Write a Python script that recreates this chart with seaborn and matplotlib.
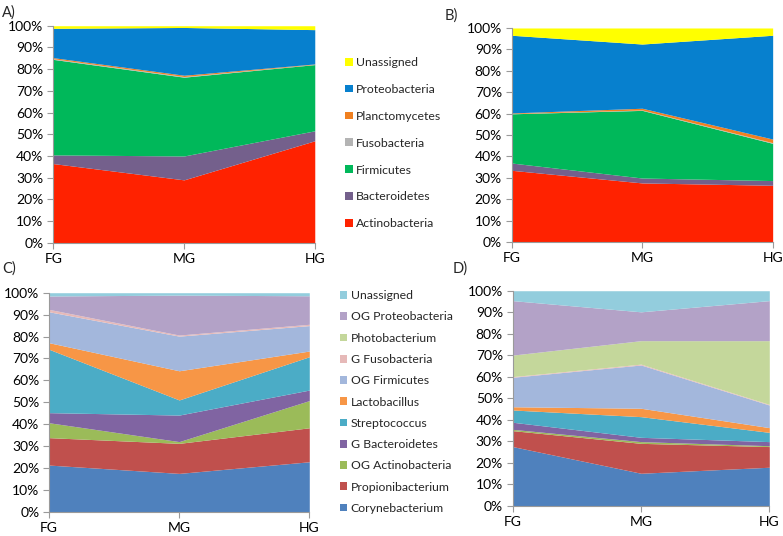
import matplotlib
matplotlib.use("Agg")
import matplotlib.pyplot as plt
import seaborn as sns

groups = ["FG", "MG", "HG"]

# phylum level (A, B), percent per group FG, MG, HG
phyla = ["Actinobacteria", "Bacteroidetes", "Firmicutes", "Fusobacteria",
         "Planctomycetes", "Proteobacteria", "Unassigned"]
a_actino = [36.5, 29.0, 47.0]
a_bacter = [4.0, 11.0, 4.6]
a_firmic = [44.0, 36.3, 30.5]
a_fuso = [0.3, 0.3, 0.1]
a_plancto = [0.5, 0.6, 0.2]
a_proteo = [13.5, 22.0, 15.8]
a_unass = [1.2, 0.8, 1.8]

b_actino = [33.5, 27.6, 26.5]
b_bacter = [3.4, 2.3, 2.2]
b_firmic = [23.0, 31.6, 17.4]
b_fuso = [0.1, 0.2, 0.3]
b_plancto = [0.3, 0.8, 1.7]
b_proteo = [36.3, 30.0, 48.5]
b_unass = [3.4, 7.5, 3.4]

# genus level (C, D)
genera = ["Corynebacterium", "Propionibacterium", "OG Actinobacteria",
          "G Bacteroidetes", "Streptococcus", "Lactobacillus", "OG Firmicutes",
          "G Fusobacteria", "Photobacterium", "OG Proteobacteria", "Unassigned"]
c_coryne = [21.4, 17.6, 22.9]
c_propioni = [12.5, 13.7, 15.5]
c_og_actino = [6.8, 0.8, 12.4]
c_g_bacter = [4.6, 12.1, 4.8]
c_strepto = [28.9, 6.9, 15.2]
c_lacto = [3.0, 13.3, 2.6]
c_og_firmic = [14.1, 15.8, 11.6]
c_g_fuso = [1.1, 0.5, 0.6]
c_photo = [0.0, 0.0, 0.0]
c_og_proteo = [6.1, 18.2, 13.0]
c_unass = [1.5, 1.1, 1.4]

d_coryne = [27.6, 15.2, 18.0]
d_propioni = [7.4, 13.9, 9.6]
d_og_actino = [0.6, 0.8, 0.4]
d_g_bacter = [3.3, 2.0, 1.9]
d_strepto = [5.7, 9.6, 4.3]
d_lacto = [1.5, 3.9, 2.2]
d_og_firmic = [13.7, 20.1, 10.5]
d_g_fuso = [0.3, 0.4, 0.3]
d_photo = [10.0, 10.9, 29.6]
d_og_proteo = [25.3, 13.4, 18.6]
d_unass = [4.6, 9.8, 4.6]

phyla_colors = sns.color_palette(["#FF2200", "#74608C", "#00B85A", "#B4B4B4",
                                  "#F08020", "#0780CE", "#FFFF00"])
genera_colors = sns.color_palette(["#4F81BD", "#C0504D", "#9BBB59", "#8064A2",
                                   "#4BACC6", "#F79646", "#A3B7DC", "#E6B9B8",
                                   "#C4D79B", "#B3A2C7", "#93CDDD"])

sns.set_style("white")
plt.rcParams["font.family"] = ["Lato", "DejaVu Sans"]

fig = plt.figure(figsize=(7.83, 5.36), dpi=100)


def panel(rect, series, colors):
    ax = fig.add_axes(rect)
    x = list(range(len(groups)))
    polys = ax.stackplot(x, *series, colors=colors, linewidth=0)
    ax.set_xlim(0, 2)
    ax.set_ylim(0, 100)
    ax.set_xticks(x)
    ax.set_xticklabels(groups)
    ax.set_yticks(range(0, 101, 10))
    ax.set_yticklabels([f"{v}%" for v in range(0, 101, 10)])
    sns.despine(ax=ax)
    for s in ["left", "bottom"]:
        ax.spines[s].set_color("#9a9a9a")
        ax.spines[s].set_linewidth(0.8)
    ax.tick_params(axis="both", which="both", length=4, width=0.8,
                   color="#9a9a9a", labelsize=10, labelcolor="black",
                   left=True, bottom=True)
    ax.tick_params(axis="x", pad=3)
    ax.tick_params(axis="y", pad=3)
    return polys


pa = panel([0.068, 0.547, 0.334, 0.405],
           [a_actino, a_bacter, a_firmic, a_fuso, a_plancto, a_proteo, a_unass],
           phyla_colors)
panel([0.6535, 0.5485, 0.3333, 0.3993],
      [b_actino, b_bacter, b_firmic, b_fuso, b_plancto, b_proteo, b_unass],
      phyla_colors)
pc = panel([0.0626, 0.0448, 0.3324, 0.4091],
           [c_coryne, c_propioni, c_og_actino, c_g_bacter, c_strepto, c_lacto,
            c_og_firmic, c_g_fuso, c_photo, c_og_proteo, c_unass],
           genera_colors)
panel([0.6548, 0.056, 0.3277, 0.4016],
      [d_coryne, d_propioni, d_og_actino, d_g_bacter, d_strepto, d_lacto,
       d_og_firmic, d_g_fuso, d_photo, d_og_proteo, d_unass],
      genera_colors)

fig.legend(pa[::-1], phyla[::-1], loc="center left",
           bbox_to_anchor=(0.441, 0.733), frameon=False, fontsize=8.8,
           handlelength=0.6, handleheight=0.6, handletextpad=0.3,
           labelspacing=1.3, borderaxespad=0, borderpad=0)
fig.legend(pc[::-1], genera[::-1], loc="center left",
           bbox_to_anchor=(0.434, 0.25), frameon=False, fontsize=8.8,
           handlelength=0.6, handleheight=0.6, handletextpad=0.3,
           labelspacing=0.84, borderaxespad=0, borderpad=0)

fig.text(0.003, 0.99, "A)", fontsize=10.5, va="top")
fig.text(0.568, 0.985, "B)", fontsize=10.5, va="top")
fig.text(0.003, 0.512, "C)", fontsize=10.5, va="top")
fig.text(0.578, 0.512, "D)", fontsize=10.5, va="top")

fig.savefig("out.png", dpi=100)
